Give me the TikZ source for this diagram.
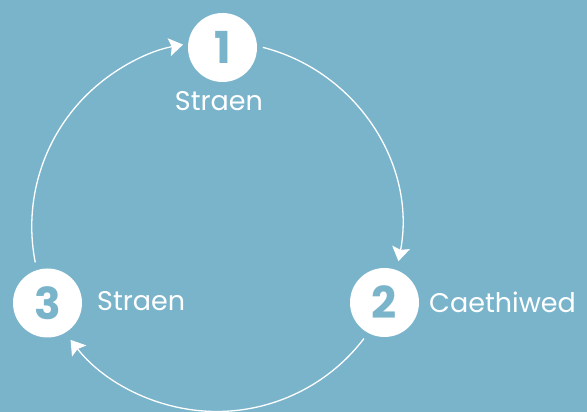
\documentclass[tikz,border=0pt]{standalone}
\usepackage{fontspec}
\setmainfont{Poppins}
\usetikzlibrary{arrows.meta,calc}
\definecolor{bg}{RGB}{121,180,203}
\tikzset{
  num/.style={circle,fill=white,minimum size=69pt,inner sep=0pt,outer sep=0pt,
    text=bg,font=\fontsize{44}{44}\selectfont\bfseries},
  lbl/.style={text=white,inner sep=0pt,font=\fontsize{27}{27}\selectfont},
  conn/.style={draw=white,line width=1.3pt,-{Stealth[length=14pt,width=18pt,inset=2.5pt]}}
}
\begin{document}
\begin{tikzpicture}[x=1pt,y=1pt]
\fill[bg] (0,0) rectangle (587,412);
\useasboundingbox (0,0) rectangle (587,412);
\node[num] (n1) at (222.5,364.5) {1};
\node[num] (n2) at (384.5,109.5) {2};
\node[num] (n3) at (47.5,109) {3};
\node[lbl,anchor=base] (l1) at (219,301) {Straen};
\node[lbl,anchor=base west] (l2) at (429,99) {Caethiwed};
\node[lbl,anchor=base west] (l3) at (97,101) {Straen};
\coordinate (c) at (216.75,185.5);
\coordinate (a1) at ($(c)+(75.55:185)$);
\coordinate (a2) at ($(c)+(-37.3:185)$);
\coordinate (a3) at ($(c)+(191.2:185)$);
\draw[conn] (a1) arc[start angle=75.55,end angle=-10.8,radius=185];
\draw[conn] (a2) arc[start angle=-37.3,end angle=-142.2,radius=185];
\draw[conn] (a3) arc[start angle=191.2,end angle=100.5,radius=185];
\end{tikzpicture}
\end{document}
